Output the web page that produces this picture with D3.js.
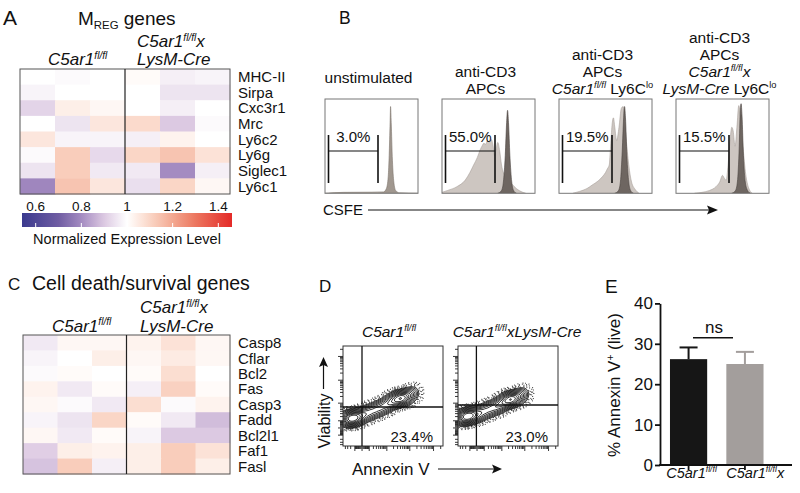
<!DOCTYPE html>
<html><head><meta charset="utf-8">
<script src="https://cdn.jsdelivr.net/npm/d3@7"></script>
<style>body{margin:0;background:#fff}svg{display:block;font-family:"Liberation Sans",Arial,Helvetica,sans-serif}</style>
</head><body><svg id="c" width="800" height="493"></svg>
<script>
// ---------------- DATA ----------------
// Panel A: MREG genes heatmap (normalized expression, 3 C5ar1fl/fl + 3 C5ar1fl/fl x LysM-Cre)
const mregGenes = ["MHC-II","Sirpa","Cxc3r1","Mrc","Ly6c2","Ly6g","Siglec1","Ly6c1"];
const mregValues = [
  [1.00,0.99,1.00,1.01,0.97,0.98],
  [0.98,1.00,1.00,1.00,0.95,0.95],
  [0.92,1.04,1.02,1.00,0.97,1.00],
  [1.00,0.95,1.06,1.09,0.90,0.99],
  [1.06,0.98,0.98,0.97,1.03,1.00],
  [0.99,1.12,0.93,1.10,1.14,1.07],
  [0.95,1.12,0.96,0.96,0.80,0.97],
  [0.79,1.14,1.06,0.94,1.10,1.02]
];
// Panel C: cell death / survival genes heatmap
const deathGenes = ["Casp8","Cflar","Bcl2","Fas","Casp3","Fadd","Bcl2l1","Faf1","Fasl"];
const deathValues = [
  [0.96,1.02,1.02,1.03,1.07,1.02],
  [0.98,1.00,1.04,1.02,1.05,1.02],
  [0.99,1.01,1.00,1.01,1.08,1.00],
  [1.03,0.96,1.01,0.97,1.11,1.01],
  [1.02,0.99,0.96,1.08,0.99,1.03],
  [0.98,0.95,1.10,1.01,0.96,0.88],
  [1.02,0.96,1.01,0.98,0.90,0.90],
  [0.91,1.04,1.03,1.04,1.12,1.07],
  [0.89,1.12,0.97,1.04,1.12,1.04]
];
const colorTicks = [0.6, 0.8, 1, 1.2, 1.4];
const colorbarTitle = "Normalized Expression Level";

// Panel B: CSFE histograms (x = fraction of CSFE axis, y = fraction of max count)
const csfeTitles = [
  [[["unstimulated",""]]],
  [[["anti-CD3",""]],[["APCs",""]]],
  [[["anti-CD3",""]],[["APCs",""]],[["C5ar1","i"],["fl/fl","is"],[" Ly6C",""],["lo","s"]]],
  [[["anti-CD3",""]],[["APCs",""]],[["C5ar1","i"],["fl/fl","is"],["x","i"]],[["LysM-Cre","i"],[" Ly6C",""],["lo","s"]]]
];
const csfeGatePct = ["3.0%","55.0%","19.5%","15.5%"];
const csfeLight = [
  null,
  [[0,0.01],[0.06,0.03],[0.16,0.07],[0.25,0.14],[0.30,0.22],[0.34,0.30],[0.38,0.38],[0.41,0.46],[0.43,0.50],[0.45,0.53],[0.47,0.52],[0.49,0.56],[0.51,0.54],[0.53,0.57],[0.55,0.50],[0.565,0.40],[0.58,0.46],[0.60,0.54],[0.62,0.45],[0.64,0.30],[0.66,0.22],[0.70,0.17],[0.75,0.10],[0.80,0.05],[0.87,0.01],[0.90,0]],
  [[0.15,0],[0.22,0.02],[0.30,0.05],[0.36,0.09],[0.42,0.13],[0.47,0.18],[0.50,0.22],[0.52,0.26],[0.54,0.30],[0.555,0.50],[0.57,0.72],[0.585,0.80],[0.60,0.70],[0.62,0.56],[0.645,0.70],[0.67,0.90],[0.69,0.92],[0.72,0.60],[0.75,0.30],[0.78,0.12],[0.82,0.04],[0.86,0]],
  [[0.20,0],[0.28,0.01],[0.36,0.03],[0.43,0.07],[0.47,0.12],[0.50,0.19],[0.52,0.16],[0.54,0.14],[0.56,0.30],[0.58,0.55],[0.60,0.70],[0.615,0.66],[0.635,0.50],[0.655,0.70],[0.675,0.93],[0.69,0.85],[0.72,0.50],[0.75,0.20],[0.78,0.06],[0.82,0]]
];
const csfeDark = [
  [[0,0],[0.2,0.01],[0.5,0.012],[0.63,0.015],[0.66,0.05],[0.68,0.18],[0.69,0.40],[0.70,0.75],[0.705,0.92],[0.712,0.75],[0.725,0.35],[0.74,0.12],[0.76,0.03],[0.80,0.005],[1,0]],
  [[0.60,0],[0.64,0.03],[0.66,0.12],[0.68,0.40],[0.695,0.75],[0.705,0.88],[0.715,0.75],[0.73,0.40],[0.75,0.12],[0.77,0.03],[0.80,0]],
  [[0.60,0],[0.64,0.03],[0.66,0.12],[0.68,0.45],[0.695,0.80],[0.705,0.92],[0.715,0.80],[0.73,0.40],[0.75,0.12],[0.77,0.03],[0.80,0]],
  [[0.60,0],[0.64,0.03],[0.66,0.12],[0.68,0.50],[0.69,0.85],[0.70,0.95],[0.71,0.82],[0.725,0.40],[0.745,0.12],[0.77,0.03],[0.80,0]]
];

// Panel D: Annexin V / Viability contour plots (ridge of the population: x, y fractions, weight)
const annexinTitles = [
  [["C5ar1","i"],["fl/fl","is"]],
  [["C5ar1","i"],["fl/fl","is"],["xLysM-Cre","i"]]
];
const annexinPct = ["23.4%","23.0%"];
const annexinGateX = [0.19, 0.184];
const annexinGateY = [0.39, 0.41];
const annexinRidge = [
  [[0.03,0.27,3],[0.07,0.27,5],[0.11,0.28,5],[0.15,0.29,4],[0.20,0.31,3],[0.25,0.33,2.5],[0.30,0.35,2.5],[0.35,0.37,2.5],[0.40,0.39,2.5],[0.45,0.42,3],[0.50,0.45,3.5],[0.55,0.47,5],[0.60,0.48,5],[0.65,0.50,3],[0.70,0.53,1.5]],
  [[0.03,0.28,3],[0.07,0.29,5],[0.11,0.30,5],[0.15,0.31,4],[0.20,0.32,3],[0.25,0.34,2.5],[0.30,0.36,2.5],[0.35,0.38,2.5],[0.40,0.40,3],[0.45,0.43,3.5],[0.50,0.46,5],[0.55,0.47,5],[0.60,0.49,3],[0.65,0.52,1.5]]
];

// Panel E: bar chart
const barCats = ["C5ar1fl/fl","C5ar1fl/flx"];
const barMeans = [26.2, 25.0];
const barErrs = [2.9, 3.0];
const barTicks = [0,10,20,30,40];

// ---------------- HELPERS ----------------
const svg = d3.select("#c");
function rich(parent, x, y, segs, size, anchor, extra) {
  const t = parent.append("text").attr("x", x).attr("y", y)
    .attr("font-size", size).attr("text-anchor", anchor || "start").attr("fill", "#111");
  if (extra) t.attr("transform", extra);
  let shift = 0;
  segs.forEach(([txt, st]) => {
    const sp = t.append("tspan").text(txt);
    let target = 0;
    if (st.includes("s")) target = -size * 0.38;
    if (st.includes("b")) target = size * 0.22;
    sp.attr("dy", target - shift); shift = target;
    if (st.includes("s") || st.includes("b")) sp.attr("font-size", size * 0.6);
    sp.attr("font-style", st.includes("i") ? "italic" : "normal");
  });
  return t;
}
function label(x, y, s, size) {
  svg.append("text").attr("x", x).attr("y", y).attr("font-size", size).attr("fill", "#111").text(s);
}
const colorDomain = [0.54, 0.7, 0.8, 0.9, 1.0, 1.1, 1.2, 1.3, 1.46];
const colorRange = ["#3b3a8e","#6f5da3","#a48bc1","#dcc9e2","#ffffff","#fad6c6","#f3a891","#ec775f","#e42a28"];
const color = d3.scaleLinear().domain(colorDomain).range(colorRange).clamp(true);

function heatmap(genes, values, x0, x1, y0, y1) {
  const g = svg.append("g");
  const x = d3.scaleBand().domain(d3.range(6)).range([x0, x1]);
  const y = d3.scaleBand().domain(genes).range([y0, y1]);
  genes.forEach((gn, r) => {
    values[r].forEach((v, c) => {
      g.append("rect").attr("x", x(c)).attr("y", y(gn))
        .attr("width", x.bandwidth() + 0.5).attr("height", y.bandwidth() + 0.5).attr("fill", color(v));
    });
    g.append("text").attr("x", x1 + 8).attr("y", y(gn) + y.bandwidth() / 2)
      .attr("dy", "0.36em").attr("font-size", 15).attr("fill", "#111").text(gn);
  });
  g.append("rect").attr("x", x0).attr("y", y0).attr("width", x1 - x0).attr("height", y1 - y0)
    .attr("fill", "none").attr("stroke", "#555").attr("stroke-width", 1);
  g.append("line").attr("x1", x(3)).attr("x2", x(3)).attr("y1", y0).attr("y2", y1)
    .attr("stroke", "#222").attr("stroke-width", 1.2);
}

// ---------------- PANEL A ----------------
label(3, 25, "A", 21);
rich(svg, 78, 25, [["M",""],["REG","b"],[" genes",""]], 19);
rich(svg, 137, 47, [["C5ar1","i"],["fl/fl","is"],["x","i"]], 17);
rich(svg, 137, 65, [["LysM-Cre","i"]], 17);
rich(svg, 48, 65, [["C5ar1","i"],["fl/fl","is"]], 17);
heatmap(mregGenes, mregValues, 20, 230, 69, 194);

// colorbar
const cb = d3.scaleLinear().domain([colorDomain[0], colorDomain[colorDomain.length - 1]]).range([22, 232]);
const grad = svg.append("defs").append("linearGradient").attr("id", "cbg").attr("x1", "0%").attr("x2", "100%");
d3.range(0, 41).forEach(i => {
  const v = cb.domain()[0] + (cb.domain()[1] - cb.domain()[0]) * i / 40;
  grad.append("stop").attr("offset", (i / 40 * 100) + "%").attr("stop-color", color(v));
});
svg.append("rect").attr("x", 22).attr("y", 213).attr("width", 210).attr("height", 14).attr("fill", "url(#cbg)");
colorTicks.forEach(t => {
  svg.append("line").attr("x1", cb(t)).attr("x2", cb(t)).attr("y1", 223).attr("y2", 227)
    .attr("stroke", "#fff").attr("stroke-width", 1);
  svg.append("text").attr("x", cb(t)).attr("y", 211).attr("text-anchor", "middle")
    .attr("font-size", 13.5).attr("fill", "#111").text(t);
});
svg.append("text").attr("x", 127).attr("y", 244).attr("text-anchor", "middle")
  .attr("font-size", 14.5).attr("fill", "#111").text(colorbarTitle);

// ---------------- PANEL C ----------------
label(8, 289.5, "C", 17);
label(32, 290, "Cell death/survival genes", 19.5);
rich(svg, 140, 313, [["C5ar1","i"],["fl/fl","is"],["x","i"]], 17);
rich(svg, 140, 331.5, [["LysM-Cre","i"]], 17);
rich(svg, 52, 331.5, [["C5ar1","i"],["fl/fl","is"]], 17);
heatmap(deathGenes, deathValues, 23, 230, 335, 474);

// ---------------- PANEL B ----------------
label(339, 24, "B", 17.5);
const boxW = 93, boxTop = 99, boxBot = 193.3;
const boxX = d3.scaleLinear().domain([0, 1]).range([325, 442]);
csfeTitles.forEach((lines, i) => {
  const bx = boxX(i);
  const cx = bx + boxW / 2 - 3;
  const n = lines.length;
  lines.forEach((segs, j) => {
    const base = n === 1 ? 83 : 94 - (n - 1 - j) * 17;
    rich(svg, cx, base, segs, 15.5, "middle");
  });
  const hx = d3.scaleLinear().domain([0, 1]).range([bx, bx + boxW]);
  const hy = d3.scaleLinear().domain([0, 1]).range([boxBot, boxTop]);
  const area = d3.area().x(d => hx(d[0])).y0(hy(0)).y1(d => hy(d[1])).curve(d3.curveMonotoneX);
  const cid = "hc" + i;
  svg.append("clipPath").attr("id", cid).append("rect").attr("x", bx).attr("y", boxTop)
    .attr("width", boxW).attr("height", boxBot - boxTop);
  const hg = svg.append("g").attr("clip-path", `url(#${cid})`);
  if (csfeLight[i]) hg.append("path").datum(csfeLight[i]).attr("d", area)
    .attr("fill", "#cdc6c1").attr("stroke", "#aaa19c").attr("stroke-width", 0.6);
  hg.append("path").datum(csfeDark[i]).attr("d", area)
    .attr("fill", i === 0 ? "#a0978f" : "#6e6661").attr("stroke", i === 0 ? "#80776f" : "#4a433f").attr("stroke-width", 0.6);
  svg.append("rect").attr("x", bx).attr("y", boxTop).attr("width", boxW).attr("height", boxBot - boxTop)
    .attr("fill", "none").attr("stroke", "#777").attr("stroke-width", 1);
  // gate
  const gx1 = bx + 3.5, gx2 = bx + 53;
  const gg = svg.append("g").attr("stroke", "#111");
  gg.append("line").attr("x1", gx1).attr("x2", gx1).attr("y1", 135).attr("y2", 183).attr("stroke-width", 1.6);
  gg.append("line").attr("x1", gx2).attr("x2", gx2).attr("y1", 135).attr("y2", 183).attr("stroke-width", 1.6);
  gg.append("line").attr("x1", gx1).attr("x2", gx2).attr("y1", 151).attr("y2", 151).attr("stroke-width", 1.2);
  svg.append("text").attr("x", (gx1 + gx2) / 2).attr("y", 142).attr("text-anchor", "middle")
    .attr("font-size", 15).attr("fill", "#111").text(csfeGatePct[i]);
});
label(323, 215, "CSFE", 15);
svg.append("line").attr("x1", 368).attr("x2", 710).attr("y1", 210).attr("y2", 210).attr("stroke", "#111").attr("stroke-width", 1.2);
svg.append("path").attr("d", "M718,210 L707,205.5 L709,210 L707,214.5 Z").attr("fill", "#111");

// ---------------- PANEL D ----------------
label(319, 291.5, "D", 17);
const flowBoxes = [[343, 346], [458, 346]];
const flowSize = 100;
const dashPatterns = ["0.9 2.6 0.9 1.7 0.9 4.2", "0.9 3.4 0.9 2.1", "0.9 1.9 0.9 3.8 0.9 2.7", "0.9 4.5 0.9 2.4", "0.9 2.9 0.9 5.1"];
flowBoxes.forEach(([x0, y0], i) => {
  const fx = d3.scaleLinear().domain([0, 1]).range([x0, x0 + flowSize]);
  const fy = d3.scaleLinear().domain([0, 1]).range([y0 + flowSize, y0]);
  rich(svg, i === 0 ? 389 : 517, 337, annexinTitles[i], 15.5, "middle");
  const cid = "fc" + i;
  svg.append("clipPath").attr("id", cid).append("rect").attr("x", x0).attr("y", y0)
    .attr("width", flowSize).attr("height", flowSize);
  const dens = d3.contourDensity()
    .x(d => fx(d[0]) - x0).y(d => fy(d[1]) - y0).weight(d => d[2])
    .size([flowSize, flowSize]).cellSize(1).bandwidth(4);
  const solid = [0.06, 0.09, 0.13, 0.18, 0.24, 0.31, 0.39, 0.48, 0.58, 0.69, 0.82];
  const dotted = [0.003, 0.008, 0.016, 0.028, 0.042];
  let getC;
  if (dens.contours) {
    const cf = dens.contours(annexinRidge[i]);
    const mx = cf.max;
    getC = lv => cf(lv * mx);
  } else {
    const all = dens.thresholds(200)(annexinRidge[i]).filter(c => c.coordinates.length);
    const mx = d3.max(all, c => c.value);
    getC = lv => dens.thresholds([lv * mx])(annexinRidge[i])[0];
  }
  const cg = svg.append("g").attr("clip-path", `url(#${cid})`)
    .append("g").attr("transform", `translate(${x0},${y0})`);
  const gp = d3.geoPath();
  dotted.forEach((lv, k) => {
    cg.append("path").attr("d", gp(getC(lv))).attr("fill", "none").attr("stroke", "#333")
      .attr("stroke-width", 1.1).attr("stroke-dasharray", dashPatterns[k])
      .attr("stroke-dashoffset", k * 1.3);
  });
  solid.forEach(lv => {
    cg.append("path").attr("d", gp(getC(lv))).attr("fill", "none").attr("stroke", "#111").attr("stroke-width", 0.9);
  });
  svg.append("rect").attr("x", x0).attr("y", y0).attr("width", flowSize).attr("height", flowSize)
    .attr("fill", "none").attr("stroke", "#333").attr("stroke-width", 1);
  // gates
  svg.append("line").attr("x1", fx(annexinGateX[i])).attr("x2", fx(annexinGateX[i])).attr("y1", y0).attr("y2", y0 + flowSize)
    .attr("stroke", "#111").attr("stroke-width", 1.3);
  svg.append("line").attr("x1", x0).attr("x2", x0 + flowSize).attr("y1", fy(annexinGateY[i])).attr("y2", fy(annexinGateY[i]))
    .attr("stroke", "#111").attr("stroke-width", 1.3);
  svg.append("text").attr("x", x0 + flowSize - 10).attr("y", y0 + flowSize - 4.5).attr("text-anchor", "end")
    .attr("font-size", 15).attr("fill", "#111").text(annexinPct[i]);
  // log-like axes ticks
  const sx = d3.scaleSymlog().constant(100).domain([-500, 262144]).range([x0, x0 + flowSize]);
  const sy = d3.scaleSymlog().constant(100).domain([-500, 262144]).range([y0 + flowSize, y0]);
  const minor = [-400, -300, -200];
  [-1, 1].forEach(s => d3.range(1, 10).forEach(m => minor.push(s * m * 10)));
  [100, 1000, 10000].forEach(p => d3.range(2, 10).forEach(m => minor.push(m * p)));
  minor.push(200000);
  const major = [-100, 0, 100, 1000, 10000, 100000];
  const ax = svg.append("g").attr("transform", `translate(0,${y0 + flowSize})`);
  ax.call(d3.axisBottom(sx).tickValues(minor).tickSize(3).tickFormat(""));
  ax.call(g => g.append("g").call(d3.axisBottom(sx).tickValues(major).tickSize(5).tickFormat("")));
  const ay = svg.append("g").attr("transform", `translate(${x0},0)`);
  ay.call(d3.axisLeft(sy).tickValues(minor).tickSize(3).tickFormat(""));
  ay.call(g => g.append("g").call(d3.axisLeft(sy).tickValues(major).tickSize(5).tickFormat("")));
  [ax, ay].forEach(a => { a.selectAll(".domain").remove(); a.selectAll("line").attr("stroke", "#222").attr("stroke-width", 0.9); });
});
svg.append("text").attr("font-size", 16).attr("fill", "#111").attr("text-anchor", "middle")
  .attr("transform", "translate(329.5,421) rotate(-90)").text("Viability");
svg.append("line").attr("x1", 323.5).attr("x2", 323.5).attr("y1", 389).attr("y2", 365).attr("stroke", "#111").attr("stroke-width", 1.2);
svg.append("path").attr("d", "M323.5,357 L319,367 L323.5,365 L328,367 Z").attr("fill", "#111");
label(352, 475, "Annexin V", 17);
svg.append("line").attr("x1", 438).attr("x2", 494).attr("y1", 469).attr("y2", 469).attr("stroke", "#111").attr("stroke-width", 1.2);
svg.append("path").attr("d", "M502,469 L492,464.5 L494,469 L492,473.5 Z").attr("fill", "#111");

// ---------------- PANEL E ----------------
label(605, 293, "E", 19);
const yE = d3.scaleLinear().domain([0, 40]).range([465, 303.4]);
const xE = d3.scaleBand().domain(barCats).range([660, 773.5]).paddingInner(0.34).paddingOuter(0.177);
const barColors = ["#161616", "#a39e9c"];
barCats.forEach((c, i) => {
  const cx = xE(c) + xE.bandwidth() / 2;
  svg.append("rect").attr("x", xE(c)).attr("y", yE(barMeans[i])).attr("width", xE.bandwidth())
    .attr("height", yE(0) - yE(barMeans[i])).attr("fill", barColors[i]);
  svg.append("line").attr("x1", cx).attr("x2", cx).attr("y1", yE(barMeans[i])).attr("y2", yE(barMeans[i] + barErrs[i]))
    .attr("stroke", barColors[i]).attr("stroke-width", 2);
  svg.append("line").attr("x1", cx - 9).attr("x2", cx + 9).attr("y1", yE(barMeans[i] + barErrs[i])).attr("y2", yE(barMeans[i] + barErrs[i]))
    .attr("stroke", barColors[i]).attr("stroke-width", 2);
});
const yAx = svg.append("g").attr("transform", "translate(660,0)")
  .call(d3.axisLeft(yE).tickValues(barTicks).tickSize(5).tickSizeOuter(0).tickPadding(2));
yAx.selectAll("text").attr("font-size", 17).attr("fill", "#111").attr("font-family", null);
yAx.selectAll("line,path").attr("stroke", "#111").attr("stroke-width", 1.8);
svg.append("line").attr("x1", 659.1).attr("x2", 792).attr("y1", yE(0)).attr("y2", yE(0)).attr("stroke", "#111").attr("stroke-width", 1.8);
const xAx = svg.append("g").attr("transform", `translate(0,${yE(0)})`)
  .call(d3.axisBottom(xE).tickSize(5).tickFormat(""));
xAx.select(".domain").remove();
xAx.selectAll("line").attr("stroke", "#111").attr("stroke-width", 1.8);
rich(svg, xE(barCats[0]) + xE.bandwidth() / 2 + 3, 478, [["C5ar1","i"],["fl/fl","is"]], 14.5, "middle");
rich(svg, xE(barCats[1]), 478, [["C5ar1","i"],["fl/fl","is"],["x","i"]], 14.5, "start");
svg.append("text").attr("x", 714).attr("y", 333).attr("text-anchor", "middle").attr("font-size", 17).attr("fill", "#111").text("ns");
svg.append("line").attr("x1", 693).attr("x2", 733).attr("y1", 337.7).attr("y2", 337.7).attr("stroke", "#111").attr("stroke-width", 1.5);
rich(svg, 0, 0, [["% Annexin V",""],["+","s"],[" (live)",""]], 17, "middle", "translate(620,385) rotate(-90)");
</script></body></html>
